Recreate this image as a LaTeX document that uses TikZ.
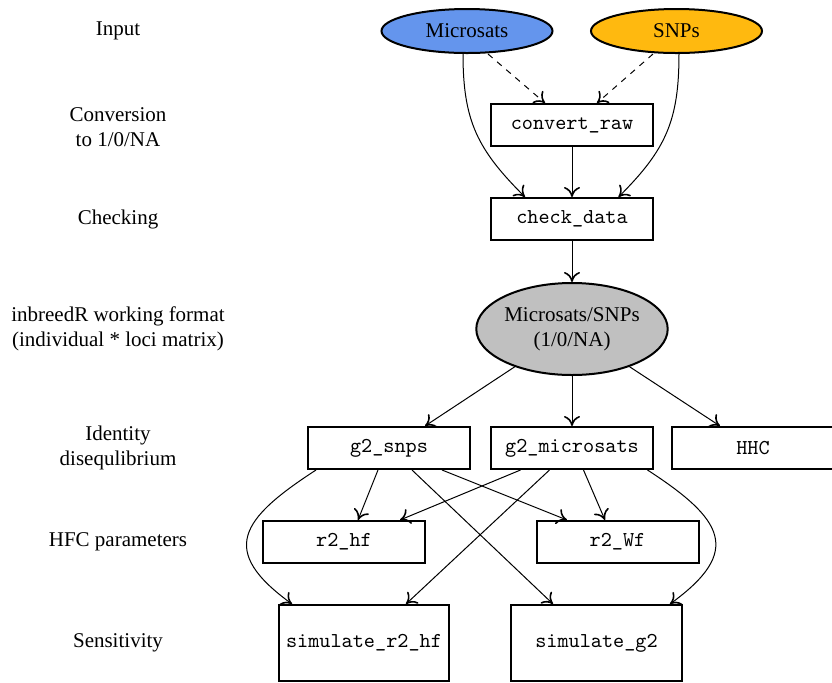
\documentclass[tikz,border=0pt]{standalone}
\usepackage{fontspec}
\setmainfont{Liberation Serif}
\usetikzlibrary{shapes.geometric,arrows.meta}
\definecolor{msblue}{RGB}{100,149,237}
\definecolor{snporange}{RGB}{255,185,15}
\definecolor{fmtgrey}{RGB}{192,192,192}

\tikzset{
	lbl/.style={font=\fontsize{10.5}{12.5}\selectfont, align=center},
	fnbox/.style={draw, line width=1pt, inner sep=0pt, minimum width=81pt, minimum height=21pt, font=\fontsize{10.6}{12}\ttfamily},
	dataset/.style={draw, ellipse, line width=1pt, inner sep=0pt, minimum width=85.5pt, minimum height=22pt, align=center, font=\fontsize{10.5}{12.5}\selectfont},
	edge/.style={-{To[length=5pt,width=8pt,line width=.8pt]}, line width=.5pt}
}

\begin{document}
\begin{tikzpicture}[x=.5pt, y=-.5pt]
	\useasboundingbox (0,0) rectangle (832,682);
	% stage labels
	\node[lbl] (lin) at (118,31) {Input};
	\node[lbl] (lconv) at (118,127) {Conversion\\to 1/0/NA};
	\node[lbl] (lchk) at (118,219) {Checking};
	\node[lbl] (lfmt) at (118,329) {inbreedR working format\\(individual * loci matrix)};
	\node[lbl] (lid) at (118,448) {Identity\\disequlibrium};
	\node[lbl] (lhfc) at (118,542) {HFC parameters};
	\node[lbl] (lsens) at (118,643) {Sensitivity};

	% data and functions
	\node[dataset, fill=msblue] (mic) at (467,31) {Microsats};
	\node[dataset, fill=snporange] (snp) at (676.5,31) {SNPs};
	\node[fnbox] (conv) at (572,125) {convert\_raw};
	\node[fnbox] (chk) at (572,219) {check\_data};
	\node[dataset, fill=fmtgrey, minimum height=46pt] (fmt) at (572,329) {Microsats/SNPs\\(1/0/NA)};
	\node[fnbox] (gsnp) at (389,448) {g2\_snps};
	\node[fnbox] (gmic) at (572,448) {g2\_microsats};
	\node[fnbox] (hhc) at (753,448) {HHC};
	\node[fnbox] (rhf) at (344,542) {r2\_hf};
	\node[fnbox] (rwf) at (617.5,542) {r2\_Wf};
	\node[fnbox, minimum width=85pt, minimum height=38pt] (simr) at (364,643) {simulate\_r2\_hf};
	\node[fnbox, minimum width=85.5pt, minimum height=38pt] (simg) at (596.5,643) {simulate\_g2};

	% input -> checking
	\draw[edge, dashed] ([xshift=10.5pt]mic.south) -- ([xshift=-13.5pt]conv.north);
	\draw[edge, dashed] ([xshift=-11.75pt]snp.south) -- ([xshift=12.5pt]conv.north);
	\draw[edge] ([xshift=-2pt]mic.south) to[out=-90, in=135, looseness=1.1] ([xshift=-23.5pt]chk.north);
	\draw[edge] ([xshift=1.25pt]snp.south) to[out=-90, in=45, looseness=1.1] ([xshift=23.25pt]chk.north);
	\draw[edge] (conv) -- (chk);
	\draw[edge] (chk) -- (fmt);

	% working format -> g2
	\draw[edge] (fmt) -- ([xshift=18pt]gsnp.north);
	\draw[edge] (fmt) -- (gmic);
	\draw[edge] (fmt) -- ([xshift=-16.5pt]hhc.north);

	% g2 -> hfc / sensitivity
	\draw[edge] ([xshift=-5.5pt]gsnp.south) -- ([xshift=7pt]rhf.north);
	\draw[edge] ([xshift=26.5pt]gsnp.south) -- ([xshift=-25.25pt]rwf.north);
	\draw[edge] ([xshift=11.5pt]gsnp.south) -- ([xshift=-21.75pt]simg.north);
	\draw[edge] ([xshift=-36.5pt]gsnp.south) to[out=213, in=144, looseness=1.7] ([xshift=-36pt]simr.north);
	\draw[edge] ([xshift=-25.75pt]gmic.south) -- ([xshift=28pt]rhf.north);
	\draw[edge] ([xshift=-11.25pt]gmic.south) -- ([xshift=21pt]simr.north);
	\draw[edge] ([xshift=5.75pt]gmic.south) -- ([xshift=-6.25pt]rwf.north);
	\draw[edge] ([xshift=37.75pt]gmic.south) to[out=-33, in=36, looseness=1.7] ([xshift=36.75pt]simg.north);
\end{tikzpicture}
\end{document}
